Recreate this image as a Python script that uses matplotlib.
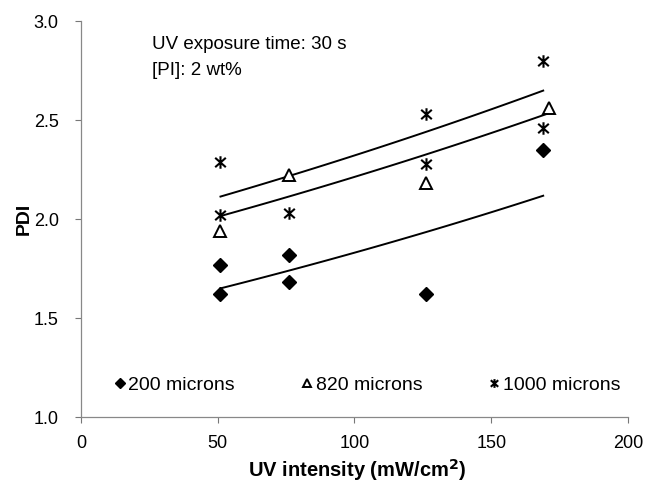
import numpy as np
import matplotlib
matplotlib.use('Agg')
import matplotlib.pyplot as plt
from matplotlib.path import Path

plt.rcParams['font.family'] = ['Liberation Sans', 'DejaVu Sans']

## data -----
# 200 microns
x_200 = [51, 51, 76, 76, 126, 169]
pdi_200 = [1.77, 1.62, 1.82, 1.68, 1.62, 2.35]
# 820 microns
x_820 = [51, 76, 126, 171]
pdi_820 = [1.94, 2.22, 2.18, 2.56]
# 1000 microns
x_1000 = [51, 51, 76, 126, 126, 169, 169]
pdi_1000 = [2.29, 2.02, 2.03, 2.53, 2.28, 2.80, 2.46]

# exponential trend lines y = a * exp(b * x)
trend_a = [1.481, 1.828, 1.917]
trend_b = [0.002116, 0.001910, 0.001913]
trend_xmax = [169, 171, 169]

series_labels = ['200 microns', '820 microns', '1000 microns']
x_ticks = [0, 50, 100, 150, 200]
y_ticks = [1.0, 1.5, 2.0, 2.5, 3.0]

# asterisk marker: vertical bar plus an X
star = Path([(0, -1), (0, 1), (-0.85, -0.75), (0.85, 0.75), (-0.85, 0.75), (0.85, -0.75)],
            [Path.MOVETO, Path.LINETO, Path.MOVETO, Path.LINETO, Path.MOVETO, Path.LINETO])

## plot -----
fig = plt.figure(figsize=(6.47, 4.87), dpi=100)
ax = fig.add_axes([0.1252, 0.1437, 0.8454, 0.8131])

for a, b, xm in zip(trend_a, trend_b, trend_xmax):
    xs = np.linspace(51, xm, 100)
    ax.plot(xs, a * np.exp(b * xs), color='black', lw=1.4)

ax.plot(x_200, pdi_200, ls='none', marker='D', ms=7, mfc='black', mec='black',
        label=series_labels[0])
ax.plot(x_820, pdi_820, ls='none', marker='^', ms=8, mfc='white', mec='black', mew=1.4,
        label=series_labels[1])
ax.plot(x_1000, pdi_1000, ls='none', marker=star, ms=9, mfc='none', mec='black', mew=1.5,
        label=series_labels[2])

ax.set_xlim(0, 200)
ax.set_ylim(1.0, 3.0)
ax.set_xticks(x_ticks)
ax.set_yticks(y_ticks)
ax.set_yticklabels([f'{v:.1f}' for v in y_ticks])
ax.tick_params(labelsize=13, color='#777777', length=4, width=0.8)
ax.tick_params(axis='x', pad=9)
ax.tick_params(axis='y', pad=12)

for side in ['top', 'right']:
    ax.spines[side].set_visible(False)
for side in ['left', 'bottom']:
    ax.spines[side].set_color('#888888')
    ax.spines[side].set_linewidth(0.9)

ax.set_xlabel('UV intensity (mW/cm$^\\mathbf{2}$)', fontsize=14.5, fontweight='bold')
ax.set_ylabel('PDI', fontsize=14, fontweight='bold')
ax.xaxis.set_label_coords(0.505, -0.1)
ax.yaxis.set_label_coords(-0.088, 0.5)

ax.text(0.13, 0.942, 'UV exposure time: 30 s', transform=ax.transAxes, fontsize=13.5, va='center')
ax.text(0.13, 0.876, '[PI]: 2 wt%', transform=ax.transAxes, fontsize=13.5, va='center')

leg = ax.legend(loc='center left', bbox_to_anchor=(0.028, 0.08), ncol=3, frameon=False,
                fontsize=14, handlelength=0.6, handletextpad=0.15, columnspacing=3.4,
                markerscale=0.7)

fig.savefig('out.png', dpi=100)
